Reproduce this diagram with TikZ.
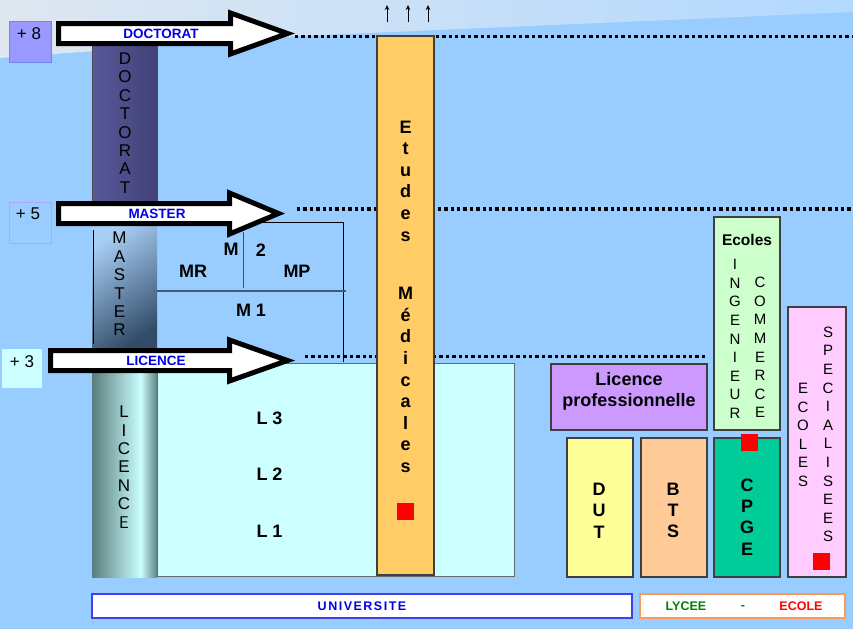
\documentclass[tikz,border=0pt]{standalone}
\usepackage{fontspec}
\setmainfont{Liberation Sans}
\usetikzlibrary{arrows.meta}
\definecolor{sky}{HTML}{99CCFF}
\definecolor{haze}{HTML}{DFE7F0}
\definecolor{lcyan}{HTML}{CCFFFF}
\definecolor{etud}{HTML}{FFCC66}
\definecolor{lpro}{HTML}{CC99FF}
\definecolor{ecing}{HTML}{CCFFCC}
\definecolor{dutcol}{HTML}{FFFF99}
\definecolor{btscol}{HTML}{FFCC99}
\definecolor{cpgecol}{HTML}{00CC99}
\definecolor{speccol}{HTML}{FFCCFF}
\definecolor{plus8}{HTML}{9999FF}
\definecolor{plus8edge}{HTML}{6F86E6}
\definecolor{plus5edge}{HTML}{B3A3FF}
\definecolor{ublue}{RGB}{0,0,230}
\definecolor{lgreen}{RGB}{0,128,0}
\definecolor{lorange}{HTML}{FF9955}
\definecolor{mline}{HTML}{3D5C7A}
\definecolor{docl}{RGB}{88,88,155}
\definecolor{docm}{RGB}{162,162,242}
\definecolor{docr}{RGB}{66,66,118}
\definecolor{mastt}{RGB}{168,206,245}
\definecolor{mastb}{RGB}{50,76,104}
\definecolor{licl}{RGB}{90,125,125}
\definecolor{licm}{RGB}{202,255,255}
\definecolor{licr}{RGB}{95,130,130}
\def\levelarrow(#1,#2)(#3,#4){\draw[line width=5pt, miter limit=10, fill=white] (#1,#2-10) -- (#3,#2-10) -- (#3,#2-20.5) -- (#4,#2) -- (#3,#2+20.5) -- (#3,#2+10) -- (#1,#2+10) -- cycle;}
\tikzset{
  stack/.style={align=center, inner sep=0pt, font=\fontsize{17}{18.4}\selectfont},
  thinstack/.style={align=center, inner sep=0pt, font=\fontsize{15}{18.6}\selectfont},
  medstack/.style={align=center, inner sep=0pt, font=\bfseries\fontsize{18}{21.6}\selectfont},
  boldstack/.style={align=center, inner sep=0pt, font=\bfseries\fontsize{18}{21.3}\selectfont},
  bigbold/.style={inner sep=0pt, font=\bfseries\fontsize{18}{21}\selectfont},
  yearlbl/.style={inner sep=0pt, font=\fontsize{17}{19}\selectfont},
  arrowlabel/.style={inner sep=0pt, text=ublue, font=\bfseries\fontsize{13.5}{16}\selectfont},
  bottomlbl/.style={inner sep=0pt, font=\bfseries\fontsize{12.5}{14}\selectfont},
  levelline/.style={line width=3.5pt, dash pattern=on 3.3pt off 3.1pt},
  box/.style={draw=black!75, line width=1.1pt},
  redmark/.style={fill=red, minimum size=17pt, inner sep=0pt},
  upline/.style={line width=1pt, -{Stealth[length=5pt,width=4.5pt]}}
}
\begin{document}
\begin{tikzpicture}[x=1pt, y=-1pt]
			%%%%% START %%%%%
			\useasboundingbox (0,0) rectangle (853,629);
			\fill[sky] (0,0) rectangle (853,629);
			\shade[left color=haze, right color=sky!75!white] (0,0) -- (853,0) -- (853,12) -- (300,36) -- (0,58) -- cycle;
			
			% years
			\draw[fill=plus8, draw=plus8edge, line width=1pt] (9,21) rectangle (51,62);
			\node[yearlbl] (y8) at (29,34) {+ 8};
			\draw[draw=plus5edge, line width=1pt] (9,202) rectangle (51,243);
			\node[yearlbl] (y5) at (28,214) {+ 5};
			\fill[lcyan] (2,349) rectangle (42,388);
			\node[yearlbl] (y3) at (22,362) {+ 3};
			
			% licence
			\draw[fill=lcyan, draw=black!60, line width=1pt] (157,363) rectangle (514.5,576);
			\node[bigbold] (l3) at (269.5,418) {L 3};
			\node[bigbold] (l2) at (269.5,474) {L 2};
			\node[bigbold] (l1) at (269.5,531) {L 1};
			
			% master
			\draw[line width=1pt] (222,222) -- (343,222) -- (343,362);
			\draw[line width=1.2pt, draw=mline] (157,291) -- (346,291);
			\draw[line width=0.8pt, draw=black!70] (243,232) -- (243,288);
			\node[bigbold] (m2a) at (231,249) {M};
			\node[bigbold] (m2b) at (261,250) {2};
			\node[bigbold] (mr) at (193,271) {MR};
			\node[bigbold] (mp) at (297,271) {MP};
			\node[bigbold] (m1) at (251,310) {M 1};
			
			% columns
			\shade[left color=docl, middle color=docm, right color=docr] (92,45) rectangle (157,203);
			\draw[line width=0.8pt, draw=black!70] (92,45) rectangle (157,203);
			\node[stack] (cdoc) at (125,123) {D\\O\\C\\T\\O\\R\\A\\T};
			\shade[top color=mastt, bottom color=mastb, shading angle=35] (92,224) rectangle (157,350);
			\draw[line width=0.8pt] (93.5,230) -- (93.5,344);
			\node[stack] (cmas) at (119.5,284) {M\\A\\S\\T\\E\\R};
			\shade[left color=licl, right color=licm] (92,371) rectangle (141,577);
			\shade[left color=licm, right color=licr] (140.5,371) rectangle (157,577);
			\node[stack] (clic) at (124,467) {L\\I\\C\\E\\N\\C\\{\sffamily E}};
			
			% levels
			\coordinate (tipdoc) at (295,36.7);
			\coordinate (tipmas) at (297,209);
			\coordinate (tiplic) at (305,356.7);
			\draw[levelline] (tipdoc) -- (853,36.7);
			\draw[levelline] (tipmas) -- (853,209);
			\draw[levelline] (tiplic) -- (707,356.7);
			
			% etudes medicales
			\draw[box, fill=etud] (377,36) rectangle (434,575);
			\node[medstack] (etu) at (405.5,181) {E\\t\\u\\d\\e\\s};
			\node[medstack] (med) at (405.5,380) {M\\é\\d\\i\\c\\a\\l\\e\\s};
			\node[redmark] (rmed) at (405.5,511.5) {};
			\foreach \x in {387,408,428} \draw[upline] (\x,22) -- (\x,5);
			
			% lycee / ecoles
			\draw[box, fill=lpro] (551,364) rectangle (707,430);
			\node[bigbold, align=center] (lp) at (629,391.5) {Licence\\professionnelle};
			\draw[box, fill=ecing] (714,217) rectangle (780,430);
			\node[inner sep=0pt, font=\bfseries\fontsize{15.5}{18}\selectfont] (eco) at (747,240) {Ecoles};
			\node[thinstack] (ing) at (735,339) {I\\N\\G\\E\\N\\I\\E\\U\\R};
			\node[thinstack] (com) at (760,347.5) {C\\O\\M\\M\\E\\R\\C\\E};
			\draw[box, fill=speccol] (788,307) rectangle (846,577);
			\node[thinstack] (ecs) at (803,435) {E\\C\\O\\L\\E\\S};
			\node[thinstack] (spe) at (828,434.5) {S\\P\\E\\C\\I\\A\\L\\I\\S\\E\\E\\S};
			\node[redmark] (rspe) at (821.5,561.5) {};
			\draw[box, fill=dutcol] (567,438) rectangle (633,577);
			\node[boldstack] (dut) at (599,510.5) {D\\U\\T};
			\draw[box, fill=btscol] (641,438) rectangle (707,577);
			\node[boldstack] (bts) at (673,510.5) {B\\T\\S};
			\draw[box, fill=cpgecol] (714,438) rectangle (780,577);
			\node[boldstack] (cpge) at (747,517) {C\\P\\G\\E};
			\node[redmark] (rcpge) at (749.5,442.5) {};
			
			% bottom
			\draw[fill=white, draw=ublue!75, line width=1.3pt] (92,594) rectangle (632,618);
			\node[bottomlbl, text=ublue] (univ) at (362,606) {\addfontfeature{LetterSpace=12}UNIVERSITE};
			\draw[fill=white, draw=lorange, line width=1.3pt] (640,594) rectangle (845,618);
			\node[bottomlbl, text=lgreen] (lyc) at (686,606) {LYCEE};
			\node[bottomlbl, text=lgreen] (sep) at (743,607) {-};
			\node[bottomlbl, text=red] (ecl) at (801,606) {ECOLE};
			
			% arrows
			\levelarrow(58.5,33.5)(230.5,287.5)
			\node[arrowlabel] (adoc) at (161,34) {DOCTORAT};
			\levelarrow(58.5,213.5)(229.5,278.5)
			\node[arrowlabel] (amas) at (157,214) {MASTER};
			\levelarrow(50.5,360.5)(229.5,287.5)
			\node[arrowlabel] (alic) at (156,361) {LICENCE};
			%%%%% END %%%%%
\end{tikzpicture}
\end{document}
